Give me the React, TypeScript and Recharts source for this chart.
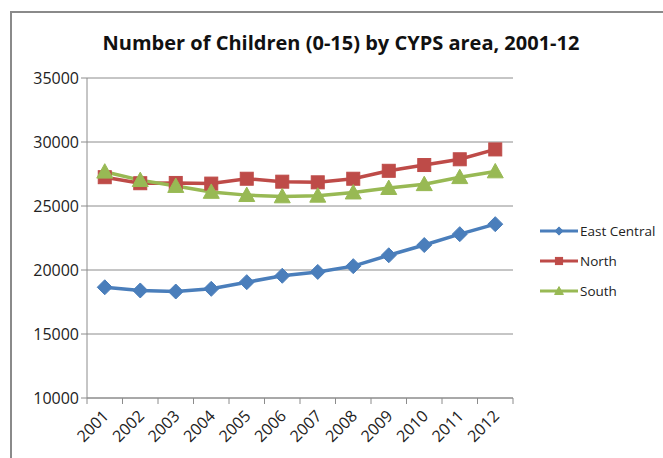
import React from 'react';
import { LineChart, Line, XAxis, YAxis, CartesianGrid } from 'recharts';

const years = [2001, 2002, 2003, 2004, 2005, 2006, 2007, 2008, 2009, 2010, 2011, 2012];
const eastCentral = [18650, 18400, 18320, 18530, 19050, 19550, 19850, 20300, 21150, 21950, 22800, 23580];
const north = [27250, 26780, 26800, 26750, 27130, 26900, 26850, 27130, 27750, 28200, 28650, 29420];
const south = [27680, 27020, 26560, 26100, 25850, 25750, 25800, 26050, 26400, 26700, 27250, 27700];
const yTicks = [10000, 15000, 20000, 25000, 30000, 35000];

const series = [
    { key: 'eastCentral', name: 'East Central', color: '#4A7EBB', marker: 'diamond' },
    { key: 'north', name: 'North', color: '#BE4B48', marker: 'square' },
    { key: 'south', name: 'South', color: '#98B954', marker: 'triangle' },
];

const data = years.map((year, i) => ({
    year,
    eastCentral: eastCentral[i],
    north: north[i],
    south: south[i],
}));

// Excel puts tick marks between categories, labels sit in the middle of each band
const boundaryTicks = [...years.map((y) => y - 0.5), years[years.length - 1] + 0.5];

const W = 663;
const H = 458;
const MARGIN = { top: 78, right: 150, bottom: 10, left: 10 };
const Y_AXIS_W = 77;
const BAND = (W - MARGIN.left - MARGIN.right - Y_AXIS_W) / years.length;

const FONT = '"Open Sans", "Liberation Sans", sans-serif';

const Marker = ({ shape, cx, cy, color, s = 1 }: any) => {
    if (cx == null || cy == null) return null;
    if (shape === 'diamond') {
        const r = 7.5 * s;
        return <path d={`M${cx},${cy - r}L${cx + r},${cy}L${cx},${cy + r}L${cx - r},${cy}Z`} fill={color} stroke={color} />;
    }
    if (shape === 'square') {
        const r = 6.5 * s;
        return <rect x={cx - r} y={cy - r} width={2 * r} height={2 * r} fill={color} stroke={color} />;
    }
    const r = 8 * s;
    return <path d={`M${cx},${cy - r}L${cx + r},${cy + r * 0.8}L${cx - r},${cy + r * 0.8}Z`} fill={color} stroke={color} />;
};

const YearTick = ({ x, y, payload }: any) => {
    const year = payload.value + 0.5;
    if (year > years[years.length - 1]) return null;
    const ax = x + BAND / 2 + 5;
    const ay = y + 11;
    return (
        <text x={ax} y={ay} textAnchor="end" transform={`rotate(-45, ${ax}, ${ay})`} fontSize={16} fill="#222" fontFamily={FONT}>
            {year}
        </text>
    );
};

const LegendBox = () => (
    <div style={{ fontFamily: FONT, fontSize: 13.5, color: '#222' }}>
        {series.map((s) => (
            <div key={s.key} style={{ display: 'flex', alignItems: 'center', height: 30 }}>
                <svg width={40} height={14}>
                    <line x1={1} y1={7} x2={39} y2={7} stroke={s.color} strokeWidth={3} />
                    <Marker shape={s.marker} cx={20} cy={7} color={s.color} s={0.55} />
                </svg>
                <span style={{ marginLeft: 1 }}>{s.name}</span>
            </div>
        ))}
    </div>
);

export default function App() {
    return (
        <div style={{ position: 'absolute', left: 0, top: 0, width: W, height: H, background: '#fff', overflow: 'hidden' }}>
            <div
                style={{
                    position: 'absolute',
                    left: 10,
                    top: 11,
                    width: 700,
                    height: 500,
                    borderLeft: '2px solid #8a8a8a',
                    borderTop: '2px solid #8a8a8a',
                }}
            />
            <div
                style={{
                    position: 'absolute',
                    left: 0,
                    top: 29,
                    width: 682,
                    textAlign: 'center',
                    fontFamily: FONT,
                    fontWeight: 700,
                    fontSize: 20,
                    color: '#111',
                }}
            >
                Number of Children (0-15) by CYPS area, 2001-12
            </div>
            <div style={{ position: 'absolute', left: 0, top: 0 }}>
                <LineChart width={W} height={H} data={data} margin={MARGIN}>
                    <CartesianGrid vertical={false} stroke="#8c8c8c" />
                    <XAxis
                        dataKey="year"
                        type="number"
                        domain={[2000.5, 2012.5]}
                        ticks={boundaryTicks}
                        interval={0}
                        tickSize={6}
                        tickLine={{ stroke: '#8c8c8c' }}
                        axisLine={{ stroke: '#8c8c8c' }}
                        tick={<YearTick />}
                        height={50}
                    />
                    <YAxis
                        domain={[10000, 35000]}
                        ticks={yTicks}
                        width={Y_AXIS_W}
                        tickSize={6}
                        tickLine={{ stroke: '#8c8c8c' }}
                        axisLine={{ stroke: '#8c8c8c' }}
                        tick={{ fontSize: 16, fill: '#222', fontFamily: FONT }}
                    />
                    {series.map((s) => (
                        <Line
                            key={s.key}
                            dataKey={s.key}
                            name={s.name}
                            stroke={s.color}
                            strokeWidth={3.5}
                            isAnimationActive={false}
                            dot={(p: any) => <Marker key={p.index} shape={s.marker} cx={p.cx} cy={p.cy} color={s.color} />}
                            activeDot={false}
                        />
                    ))}
                </LineChart>
            </div>
            <div style={{ position: 'absolute', left: 539, top: 216, width: 124 }}>
                <LegendBox />
            </div>
        </div>
    );
}
